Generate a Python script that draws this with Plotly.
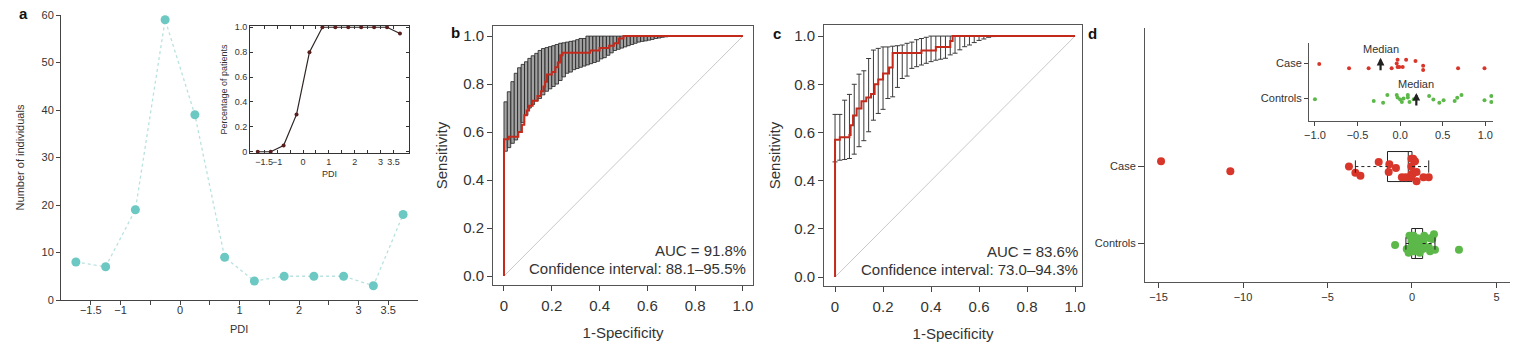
import plotly.graph_objects as go

FONT = "Liberation Sans, Arial, Helvetica, sans-serif"
TXT = "#333333"
W, H = 1517, 357

# ---------------- Panel a : PDI distribution ----------------
pdi_bins = [-1.75, -1.25, -0.75, -0.25, 0.25, 0.75, 1.25, 1.75, 2.25, 2.75, 3.25, 3.75]
n_individuals = [8, 7, 19, 59, 39, 9, 4, 5, 5, 5, 3, 18]
pct_patients = [0, 0, 0.05, 0.30, 0.80, 1.0, 1.0, 1.0, 1.0, 1.0, 1.0, 0.95]
pdi_tickvals = [-1.5, -1, 0, 1, 2, 3, 3.5]
pdi_ticktext = ["\u22121.5", "\u22121", "0", "1", "2", "3", "3.5"]
pdi_minor_tickvals = [-0.5, 0.5, 1.5, 2.5]
pct_tickvals = [0, 0.2, 0.4, 0.6, 0.8, 1.0]
pct_ticktext = ["0", "0.2", "0.4", "0.6", "0.8", "1.0"]

# ---------------- Panel b : ROC with CI bars ----------------
b_fpr = [0, 0, 0.02, 0.06, 0.075, 0.085, 0.095, 0.105, 0.12, 0.14, 0.155, 0.165, 0.172,
         0.18, 0.20, 0.215, 0.225, 0.235, 0.245, 0.36, 0.40, 0.44, 0.46, 0.48, 0.50, 1.0]
b_sens = [0, 0.57, 0.58, 0.60, 0.63, 0.67, 0.69, 0.71, 0.73, 0.75, 0.77, 0.79, 0.81,
          0.84, 0.85, 0.87, 0.89, 0.92, 0.93, 0.94, 0.95, 0.96, 0.97, 0.99, 1.0, 1.0]
b_ci_fpr = [0.007, 0.021, 0.036, 0.050, 0.064, 0.079, 0.093, 0.107, 0.121, 0.136,
            0.150, 0.164, 0.179, 0.193, 0.207, 0.221, 0.236, 0.250, 0.264, 0.279,
            0.293, 0.307, 0.321, 0.336, 0.350, 0.364, 0.379, 0.393, 0.407, 0.421,
            0.436, 0.450, 0.464, 0.479, 0.493, 0.507, 0.521, 0.536, 0.550, 0.564,
            0.579, 0.593, 0.607, 0.621, 0.636, 0.650, 0.664, 0.679]
b_upper = [0.726, 0.768, 0.81, 0.845, 0.868, 0.882, 0.893, 0.907, 0.918, 0.928,
           0.94, 0.948, 0.952, 0.956, 0.96, 0.965, 0.97, 0.972, 0.975, 0.978,
           0.98, 0.985, 0.99, 0.99, 1, 1, 1, 1, 1, 1,
           1, 1, 1, 1, 1, 1, 1, 1, 1, 1,
           1, 1, 1, 1, 1, 1, 1, 1]
b_lower = [0.52, 0.535, 0.553, 0.567, 0.60, 0.64, 0.67, 0.70, 0.715, 0.73,
           0.74, 0.755, 0.77, 0.78, 0.79, 0.80, 0.815, 0.83, 0.845, 0.85,
           0.86, 0.865, 0.87, 0.875, 0.88, 0.885, 0.89, 0.895, 0.905, 0.91,
           0.92, 0.93, 0.94, 0.945, 0.95, 0.955, 0.96, 0.965, 0.97, 0.975,
           0.978, 0.98, 0.983, 0.986, 0.99, 0.992, 0.995, 0.997]
b_auc_text = ["AUC = 91.8%", "Confidence interval: 88.1\u201395.5%"]

# ---------------- Panel c : ROC with CI error bars ----------------
c_fpr = [0, 0, 0.02, 0.06, 0.065, 0.075, 0.09, 0.11, 0.13, 0.15, 0.165, 0.18, 0.20,
         0.225, 0.24, 0.36, 0.42, 0.48, 0.49, 1.0]
c_sens = [0, 0.57, 0.58, 0.59, 0.63, 0.67, 0.70, 0.73, 0.745, 0.76, 0.80, 0.82, 0.845,
          0.87, 0.93, 0.94, 0.955, 0.98, 1.0, 1.0]
c_ci_fpr = [0, 0.02, 0.04, 0.06, 0.08, 0.10, 0.12, 0.14, 0.16, 0.18, 0.20, 0.22,
            0.24, 0.26, 0.28, 0.30, 0.32, 0.34, 0.36, 0.38, 0.40, 0.42, 0.44, 0.46,
            0.48, 0.50, 0.52, 0.54, 0.56, 0.58, 0.60, 0.62, 0.64, 0.66]
c_upper = [0.675, 0.675, 0.734, 0.758, 0.80, 0.842, 0.856, 0.907, 0.942, 0.949, 0.955, 0.955,
           0.958, 0.96, 0.963, 0.97, 0.975, 0.985, 0.99, 0.995, 1, 1, 1, 1,
           1, 1, 1, 1, 1, 1, 1, 1, 1, 1]
c_lower = [0.478, 0.485, 0.488, 0.492, 0.51, 0.541, 0.566, 0.603, 0.651, 0.679, 0.696, 0.741,
           0.748, 0.787, 0.824, 0.834, 0.866, 0.873, 0.88, 0.887, 0.894, 0.90, 0.904, 0.908,
           0.922, 0.929, 0.943, 0.956, 0.963, 0.973, 0.982, 0.988, 0.995, 0.998]
c_auc_text = ["AUC = 83.6%", "Confidence interval: 73.0\u201394.3%"]

diag = [0, 1]
roc_tickvals = [0, 0.2, 0.4, 0.6, 0.8, 1.0]
roc_x_ticktext = ["0", "0.2", "0.4", "0.6", "0.8", "1.0"]
roc_y_ticktext = ["0.0", "0.2", "0.4", "0.6", "0.8", "1.0"]

# ---------------- Panel d : Case vs Controls ----------------
groups = ["Case", "Controls"]
group_pos = [2, 1]
group_colors = ["#d8362a", "#5db84a"]
case_vals = [-14.85, -10.75, -3.73, -3.35, -3.05, -1.97, -1.38, -1.34, -0.95, -0.6, -0.37,
             -0.1, -0.04, -0.03, -0.03, -0.01, 0.03, 0.07, 0.18, 0.27, 0.27, 0.68, 0.99]
case_jitter = [0.07, -0.06, 0.0, -0.08, -0.12, 0.06, -0.07, 0.03, -0.02, -0.14, -0.14,
               -0.14, 0.0, 0.1, -0.1, -0.1, -0.1, 0.1, 0.07, -0.07, -0.19, -0.14, -0.14]
ctrl_vals = [-1.0, -0.31, -0.2, -0.15, -0.04, -0.03, 0.0, 0.02, 0.04, 0.09, 0.09, 0.11,
             0.16, 0.34, 0.39, 0.46, 0.51, 0.64, 0.67, 0.72, 0.99, 1.07, 1.07,
             1.2, 1.3, 1.36, 2.78]
ctrl_jitter = [-0.02, -0.07, -0.12, 0.1, 0.1, 0.03, -0.03, -0.1, 0.0, 0.1, 0.03, -0.1,
               -0.02, 0.07, -0.03, -0.12, -0.05, -0.07, 0.02, 0.1, -0.05, 0.07, -0.1,
               0.06, 0.12, -0.08, -0.08]
box_q1 = [-1.45, -0.02]
box_median = [-0.22, 0.20]
box_q3 = [0.0, 0.63]
box_low = [-3.35, -0.36]
box_high = [0.99, 1.36]
inset_median = [-0.23, 0.19]
d_tickvals = [-15, -10, -5, 0, 5]
d_inset_tickvals = [-1.0, -0.5, 0.0, 0.5, 1.0]
d_inset_ticktext = ["\u22121.0", "\u22120.5", "0.0", "0.5", "1.0"]

# ---------------- helpers ----------------
def px_x(a, b):
    return [a / W, b / W]

def px_y(top, bottom):
    return [1 - bottom / H, 1 - top / H]

def axis(**kw):
    base = dict(showgrid=False, zeroline=False, showline=True, linecolor="#444444",
                linewidth=1, ticks="outside", tickcolor="#444444", ticklen=4,
                tickfont=dict(family=FONT, size=11, color=TXT), automargin=False,
                fixedrange=True, tickangle=0, ticklabeloverflow="allow")
    base.update(kw)
    return base

fig = go.Figure()

# Panel a main
fig.add_trace(go.Scatter(x=pdi_bins, y=n_individuals, mode="lines+markers",
                         line=dict(color="#b8e2df", width=1.3, dash="dot"),
                         marker=dict(color="#6cc8c2", size=9),
                         xaxis="x", yaxis="y", cliponaxis=False))
# Panel a x tick labels: text on the shared x scale, in a thin strip just under the axis
fig.add_trace(go.Scatter(x=pdi_tickvals, y=[0 for _ in pdi_tickvals], mode="text",
                         text=pdi_ticktext, textposition="middle center",
                         textfont=dict(family=FONT, size=11, color=TXT),
                         xaxis="x", yaxis="y7", cliponaxis=False, hoverinfo="skip"))
# Panel a inset
fig.add_trace(go.Scatter(x=pdi_bins, y=pct_patients, mode="lines+markers",
                         line=dict(color="#2e2424", width=1.2),
                         marker=dict(color="#5a1e1e", size=4),
                         xaxis="x2", yaxis="y2", cliponaxis=False))

# Panel b
fig.add_trace(go.Scatter(x=diag, y=diag, mode="lines", line=dict(color="#c8c8c8", width=1),
                         xaxis="x3", yaxis="y3"))
fig.add_trace(go.Bar(x=b_ci_fpr, y=[u - l for u, l in zip(b_upper, b_lower)], base=b_lower,
                     width=0.0143, marker=dict(color="#a2a2a2", line=dict(color="#1e1e1e", width=0.8)),
                     xaxis="x3", yaxis="y3"))
fig.add_trace(go.Scatter(x=b_fpr, y=b_sens, mode="lines",
                         line=dict(color="#c42a1c", width=2, shape="hv"),
                         xaxis="x3", yaxis="y3"))

# Panel c
fig.add_trace(go.Scatter(x=diag, y=diag, mode="lines", line=dict(color="#c8c8c8", width=1),
                         xaxis="x4", yaxis="y4"))
fig.add_trace(go.Scatter(x=c_ci_fpr, y=c_lower, mode="markers",
                         marker=dict(size=1, color="rgba(0,0,0,0)"),
                         error_y=dict(type="data", symmetric=False,
                                      array=[u - l for u, l in zip(c_upper, c_lower)],
                                      arrayminus=[0 for _ in c_lower],
                                      color="#3a3a3a", thickness=1, width=2.5),
                         xaxis="x4", yaxis="y4"))
fig.add_trace(go.Scatter(x=c_fpr, y=c_sens, mode="lines",
                         line=dict(color="#c42a1c", width=2, shape="hv"),
                         xaxis="x4", yaxis="y4"))

# Panel d main: points
all_vals = [case_vals, ctrl_vals]
all_jit = [case_jitter, ctrl_jitter]
for i in range(2):
    fig.add_trace(go.Scatter(x=all_vals[i], y=[group_pos[i] + j for j in all_jit[i]],
                             mode="markers", marker=dict(color=group_colors[i], size=8),
                             xaxis="x5", yaxis="y5"))
# Panel d main: boxes & whiskers
for i in range(2):
    p = group_pos[i]
    fig.add_trace(go.Box(y=[p], q1=[box_q1[i]], median=[box_median[i]], q3=[box_q3[i]],
                         lowerfence=[box_q1[i]], upperfence=[box_q3[i]], orientation="h",
                         width=0.39, whiskerwidth=0, fillcolor="rgba(0,0,0,0)",
                         line=dict(color="#222222", width=1), boxpoints=False,
                         xaxis="x5", yaxis="y5"))
    fig.add_trace(go.Scatter(x=[box_low[i], box_q1[i], None, box_q3[i], box_high[i]],
                             y=[p, p, None, p, p], mode="lines",
                             line=dict(color="#222222", width=1, dash="dot"),
                             xaxis="x5", yaxis="y5"))
    fig.add_trace(go.Scatter(x=[box_low[i], box_low[i], None, box_high[i], box_high[i]],
                             y=[p - 0.08, p + 0.08, None, p - 0.08, p + 0.08], mode="lines",
                             line=dict(color="#222222", width=1),
                             xaxis="x5", yaxis="y5"))

# Panel d inset: points
for i in range(2):
    fig.add_trace(go.Scatter(x=all_vals[i], y=[group_pos[i] + j for j in all_jit[i]],
                             mode="markers", marker=dict(color=group_colors[i], size=4),
                             xaxis="x6", yaxis="y6"))

# ---------------- layout ----------------
lay = dict(
    width=W, height=H, margin=dict(l=0, r=0, t=0, b=0),
    paper_bgcolor="white", plot_bgcolor="rgba(0,0,0,0)", showlegend=False,
    font=dict(family=FONT, color=TXT),
)
lay["xaxis"] = axis(domain=px_x(61, 418), range=[-2, 4], anchor="y",
                    tickmode="array", tickvals=pdi_tickvals, showticklabels=False,
                    minor=dict(tickmode="array", tickvals=pdi_minor_tickvals, ticks="outside",
                               ticklen=4, tickcolor="#444444", showgrid=False))
lay["yaxis"] = axis(domain=px_y(15, 300), range=[0, 60], anchor="x", dtick=10,
                    title=dict(text="Number of individuals", font=dict(size=11, family=FONT, color=TXT),
                               standoff=14))
lay["yaxis7"] = dict(domain=px_y(303, 319), range=[-1, 1], anchor="x", visible=False,
                     fixedrange=True, showgrid=False, zeroline=False)
lay["xaxis2"] = axis(domain=px_x(250, 409), range=[-2.05, 4.1], anchor="y2",
                     tickmode="array", tickvals=pdi_tickvals, ticktext=pdi_ticktext,
                     ticks="inside", mirror="ticks",
                     ticklen=3, linecolor="#333333", tickcolor="#333333",
                     minor=dict(tickmode="array", tickvals=pdi_minor_tickvals, ticks="inside",
                                ticklen=3, tickcolor="#333333", showgrid=False),
                     tickfont=dict(family=FONT, size=9, color=TXT),
                     title=dict(text="PDI", font=dict(size=9, family=FONT, color=TXT), standoff=4))
lay["yaxis2"] = axis(domain=px_y(26, 153), range=[-0.01, 1.01], anchor="x2",
                     tickmode="array", tickvals=pct_tickvals, ticktext=pct_ticktext,
                     ticks="inside", mirror="ticks",
                     ticklen=3, linecolor="#333333", tickcolor="#333333",
                     tickfont=dict(family=FONT, size=9, color=TXT),
                     title=dict(text="Percentage of patients", font=dict(size=9, family=FONT, color=TXT),
                                standoff=5))
roc_font = dict(family=FONT, size=15, color=TXT)
for k, (xd, yd, xr, yr, ys) in {
    3: (px_x(493, 753), px_y(26, 285), [-0.046, 1.042], [-0.0375, 1.042], 11),
    4: (px_x(824, 1082), px_y(25, 286), [-0.046, 1.029], [-0.037, 1.046], 9),
}.items():
    lay[f"xaxis{k}"] = axis(domain=xd, range=xr, anchor=f"y{k}", mirror=True, linecolor="#555555",
                            tickmode="array", tickvals=roc_tickvals, ticktext=roc_x_ticktext,
                            ticklen=5, tickfont=roc_font, ticklabelstandoff=2,
                            title=dict(text="1-Specificity", font=roc_font, standoff=14))
    lay[f"yaxis{k}"] = axis(domain=yd, range=yr, anchor=f"x{k}", mirror=True, linecolor="#555555",
                            tickmode="array", tickvals=roc_tickvals, ticktext=roc_y_ticktext,
                            ticklen=5, tickfont=roc_font,
                            title=dict(text="Sensitivity", font=roc_font, standoff=ys))
d_font = dict(family=FONT, size=11, color=TXT)
lay["xaxis5"] = axis(domain=px_x(1145, 1510), range=[-15.8, 5.8], anchor="y5",
                     tickmode="array", tickvals=d_tickvals, tickfont=d_font, ticklen=5,
                     linecolor="#555555")
lay["yaxis5"] = axis(domain=px_y(28, 282), range=[0.5, 3.8], anchor="x5",
                     tickmode="array", tickvals=group_pos, ticktext=groups, tickfont=d_font,
                     ticklen=6, linecolor="#555555")
lay["xaxis6"] = axis(domain=px_x(1309, 1493), range=[-1.07, 1.09], anchor="y6",
                     tickmode="array", tickvals=d_inset_tickvals, ticktext=d_inset_ticktext,
                     tickfont=d_font, ticklen=4, linecolor="#555555")
lay["yaxis6"] = axis(domain=px_y(43, 121), range=[0.36, 2.58], anchor="x6",
                     tickmode="array", tickvals=group_pos, ticktext=groups, tickfont=d_font,
                     ticklen=4, linecolor="#555555")

ann = []
ann.append(dict(text="PDI", x=0.5, y=1 - 329 / H, xref="x domain", yref="paper", showarrow=False,
                xanchor="center", yanchor="middle", font=dict(family=FONT, size=11, color=TXT)))
# panel letters
for letter, (lx, ly) in {"a": (23, 14), "b": (456, 32), "c": (777, 33), "d": (1092, 33)}.items():
    ann.append(dict(text=f"<b>{letter}</b>", x=lx / W, y=1 - ly / H, xref="paper", yref="paper",
                    showarrow=False, font=dict(family=FONT, size=15, color="#111111"),
                    xanchor="center", yanchor="middle"))
# AUC texts
for k, texts in ((3, b_auc_text), (4, c_auc_text)):
    for t, yv in zip(texts, (0.108, 0.033)):
        ann.append(dict(text=t, x=1.02, y=yv, xref=f"x{k}", yref=f"y{k}", showarrow=False,
                        xanchor="right", yanchor="middle", font=roc_font))
# median arrows + labels in d inset
for i in range(2):
    p = group_pos[i]
    m = inset_median[i]
    ann.append(dict(text="", x=m, y=p + 0.16, ax=m, ay=p - 0.24, xref="x6", yref="y6",
                    axref="x6", ayref="y6", showarrow=True, arrowhead=2, arrowsize=0.7,
                    arrowwidth=2.2, arrowcolor="#222222"))
    ann.append(dict(text="Median", x=m, y=p + 0.42, xref="x6", yref="y6", showarrow=False,
                    xanchor="center", yanchor="middle", font=d_font))
lay["annotations"] = ann

fig.update_layout(**lay)
fig.write_html("out.html", config={"displayModeBar": False},
               post_script="document.body.style.margin='0px';document.body.style.overflow='hidden';")
